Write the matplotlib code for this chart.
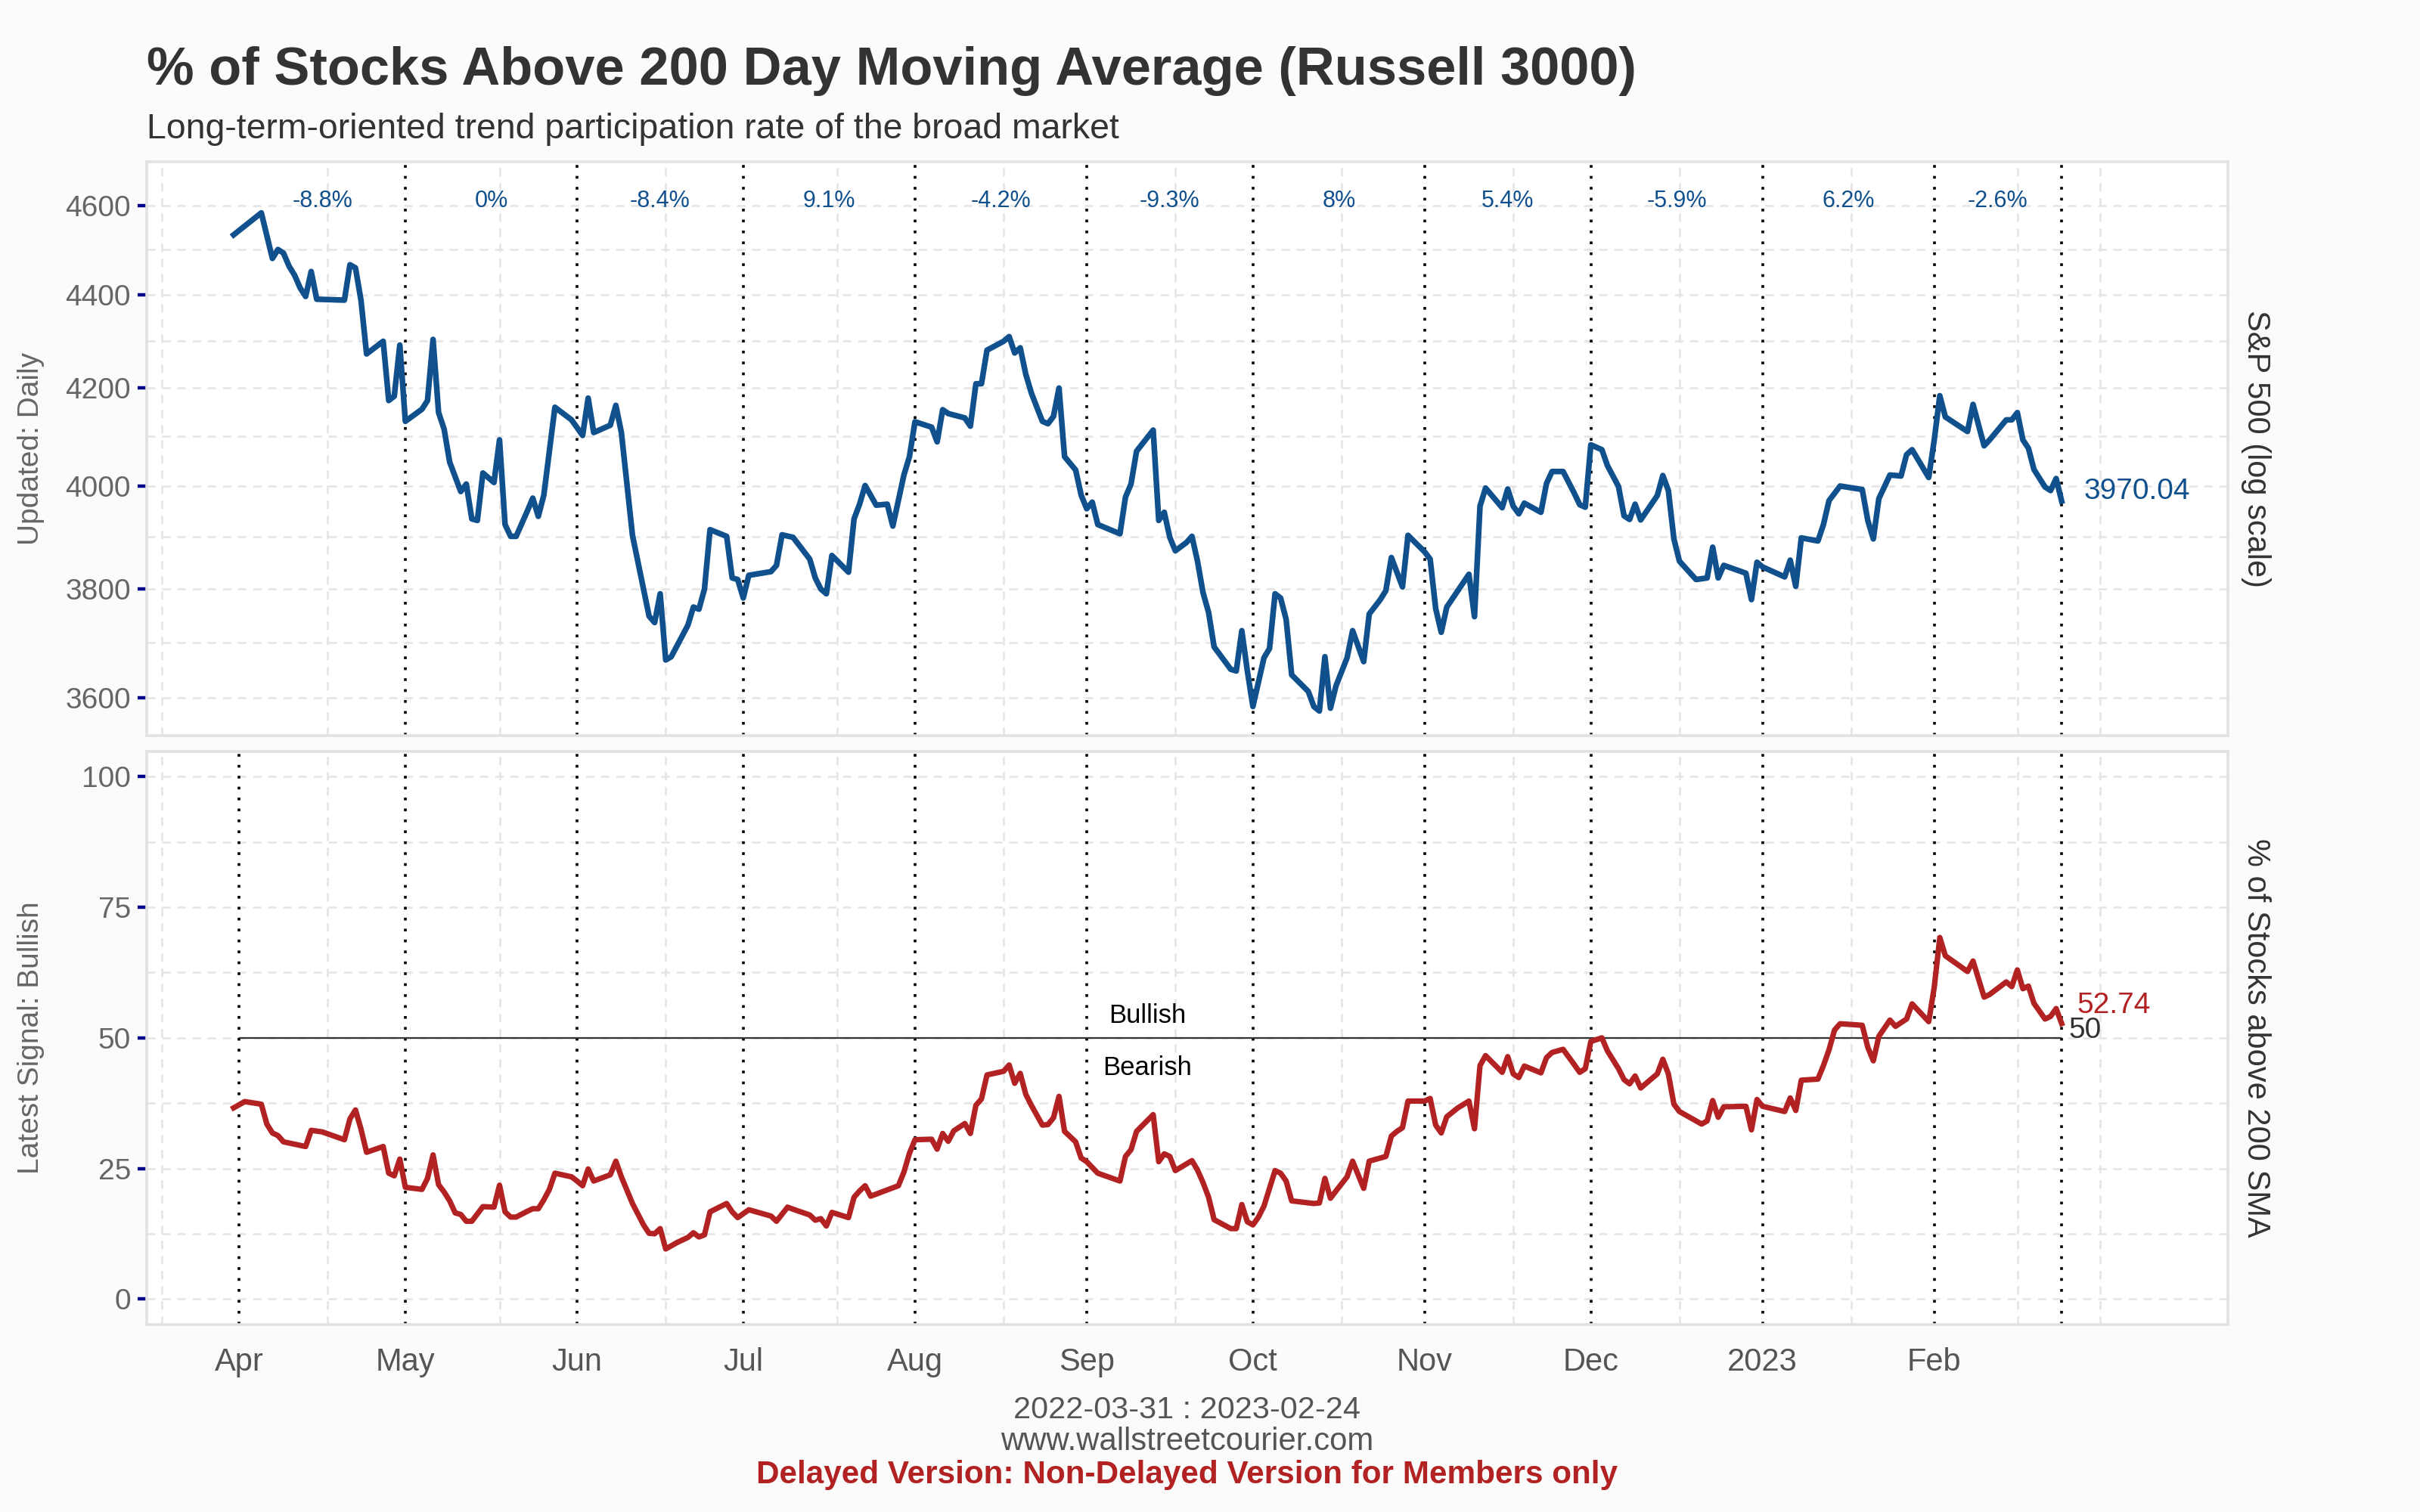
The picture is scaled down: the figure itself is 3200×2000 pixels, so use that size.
import matplotlib
matplotlib.use("Agg")
import matplotlib.pyplot as plt
import matplotlib.dates as mdates
import matplotlib.ticker as mticker
import matplotlib.transforms as mtransforms
import numpy as np
import pandas as pd

plt.rcParams['font.family'] = ['Liberation Sans', 'DejaVu Sans']

# ---- data ----
spx_dates = [
    "2022-03-31", "2022-04-05", "2022-04-07", "2022-04-08", "2022-04-09", "2022-04-10", "2022-04-11",
    "2022-04-12", "2022-04-13", "2022-04-14", "2022-04-15", "2022-04-20", "2022-04-21", "2022-04-22",
    "2022-04-23", "2022-04-24", "2022-04-27", "2022-04-28", "2022-04-29", "2022-04-30", "2022-05-01",
    "2022-05-04", "2022-05-05", "2022-05-06", "2022-05-07", "2022-05-08", "2022-05-09", "2022-05-11",
    "2022-05-12", "2022-05-13", "2022-05-14", "2022-05-15", "2022-05-17", "2022-05-18", "2022-05-19",
    "2022-05-20", "2022-05-21", "2022-05-23", "2022-05-24", "2022-05-25", "2022-05-26", "2022-05-28",
    "2022-05-31", "2022-06-02", "2022-06-03", "2022-06-04", "2022-06-07", "2022-06-08", "2022-06-09",
    "2022-06-11", "2022-06-14", "2022-06-15", "2022-06-16", "2022-06-17", "2022-06-18", "2022-06-21",
    "2022-06-22", "2022-06-23", "2022-06-24", "2022-06-25", "2022-06-28", "2022-06-29", "2022-06-30",
    "2022-07-01", "2022-07-02", "2022-07-06", "2022-07-07", "2022-07-08", "2022-07-10", "2022-07-13",
    "2022-07-14", "2022-07-15", "2022-07-16", "2022-07-17", "2022-07-20", "2022-07-21", "2022-07-22",
    "2022-07-23", "2022-07-25", "2022-07-27", "2022-07-28", "2022-07-30", "2022-07-31", "2022-08-01",
    "2022-08-04", "2022-08-05", "2022-08-06", "2022-08-07", "2022-08-08", "2022-08-10", "2022-08-11",
    "2022-08-12", "2022-08-13", "2022-08-14", "2022-08-17", "2022-08-18", "2022-08-19", "2022-08-20",
    "2022-08-21", "2022-08-22", "2022-08-23", "2022-08-24", "2022-08-25", "2022-08-26", "2022-08-27",
    "2022-08-28", "2022-08-30", "2022-08-31", "2022-09-01", "2022-09-02", "2022-09-03", "2022-09-07",
    "2022-09-08", "2022-09-09", "2022-09-10", "2022-09-13", "2022-09-14", "2022-09-15", "2022-09-16",
    "2022-09-17", "2022-09-19", "2022-09-20", "2022-09-21", "2022-09-22", "2022-09-23", "2022-09-24",
    "2022-09-27", "2022-09-28", "2022-09-29", "2022-09-30", "2022-10-01", "2022-10-02", "2022-10-03",
    "2022-10-04", "2022-10-05", "2022-10-06", "2022-10-07", "2022-10-08", "2022-10-10", "2022-10-11",
    "2022-10-12", "2022-10-13", "2022-10-14", "2022-10-15", "2022-10-16", "2022-10-18", "2022-10-19",
    "2022-10-21", "2022-10-22", "2022-10-24", "2022-10-25", "2022-10-26", "2022-10-28", "2022-10-29",
    "2022-11-01", "2022-11-02", "2022-11-03", "2022-11-04", "2022-11-05", "2022-11-07", "2022-11-09",
    "2022-11-10", "2022-11-11", "2022-11-12", "2022-11-15", "2022-11-16", "2022-11-17", "2022-11-18",
    "2022-11-19", "2022-11-22", "2022-11-23", "2022-11-24", "2022-11-26", "2022-11-28", "2022-11-29",
    "2022-11-30", "2022-12-01", "2022-12-03", "2022-12-04", "2022-12-06", "2022-12-07", "2022-12-08",
    "2022-12-09", "2022-12-10", "2022-12-13", "2022-12-14", "2022-12-15", "2022-12-16", "2022-12-17",
    "2022-12-20", "2022-12-22", "2022-12-23", "2022-12-24", "2022-12-25", "2022-12-29", "2022-12-30",
    "2022-12-31", "2023-01-01", "2023-01-05", "2023-01-06", "2023-01-07", "2023-01-08", "2023-01-11",
    "2023-01-12", "2023-01-13", "2023-01-15", "2023-01-19", "2023-01-20", "2023-01-21", "2023-01-22",
    "2023-01-24", "2023-01-26", "2023-01-27", "2023-01-28", "2023-01-31", "2023-02-01", "2023-02-02",
    "2023-02-03", "2023-02-07", "2023-02-08", "2023-02-10", "2023-02-11", "2023-02-14", "2023-02-15",
    "2023-02-16", "2023-02-17", "2023-02-18", "2023-02-19", "2023-02-21", "2023-02-22", "2023-02-23",
    "2023-02-24",
]
spx_values = [
    4533, 4583, 4480, 4500, 4492, 4463, 4443, 4415, 4396, 4451, 4390, 4388, 4466, 4459,
    4387, 4272, 4299, 4174, 4183, 4291, 4131, 4156, 4174, 4303, 4149, 4115, 4048, 3989,
    4004, 3935, 3932, 4026, 4007, 4093, 3924, 3901, 3901, 3950, 3976, 3940, 3982, 4160,
    4134, 4102, 4179, 4108, 4123, 4164, 4108, 3903, 3749, 3737, 3791, 3668, 3674, 3732,
    3766, 3762, 3800, 3914, 3901, 3821, 3818, 3783, 3826, 3833, 3845, 3904, 3899, 3857,
    3821, 3800, 3791, 3864, 3832, 3935, 3964, 4001, 3962, 3964, 3921, 4022, 4059, 4130,
    4119, 4089, 4155, 4147, 4144, 4138, 4121, 4209, 4209, 4280, 4299, 4309, 4274, 4285,
    4229, 4190, 4160, 4131, 4126, 4141, 4200, 4059, 4032, 3982, 3955, 3968, 3924, 3906,
    3978, 4004, 4070, 4113, 3932, 3948, 3899, 3873, 3889, 3901, 3853, 3793, 3756, 3692,
    3651, 3648, 3722, 3648, 3584, 3628, 3672, 3689, 3791, 3783, 3743, 3641, 3621, 3611,
    3584, 3576, 3674, 3581, 3621, 3672, 3722, 3665, 3753, 3780, 3797, 3860, 3804, 3903,
    3871, 3857, 3763, 3719, 3766, 3797, 3828, 3748, 3960, 3996, 3957, 3994, 3960, 3945,
    3966, 3948, 4005, 4029, 4029, 3986, 3963, 3958, 4083, 4073, 4041, 3999, 3941, 3934,
    3964, 3933, 3981, 4021, 3991, 3896, 3853, 3818, 3821, 3880, 3821, 3845, 3830, 3780,
    3851, 3842, 3823, 3855, 3805, 3898, 3892, 3924, 3971, 4000, 3993, 3932, 3896, 3975,
    4022, 4020, 4063, 4073, 4017, 4093, 4184, 4140, 4110, 4166, 4081, 4093, 4134, 4134,
    4149, 4093, 4076, 4033, 3998, 3991, 4015, 3970.04,
]

pct_dates = [
    "2022-03-31", "2022-04-02", "2022-04-05", "2022-04-06", "2022-04-07", "2022-04-08", "2022-04-09",
    "2022-04-13", "2022-04-14", "2022-04-16", "2022-04-20", "2022-04-21", "2022-04-22", "2022-04-23",
    "2022-04-24", "2022-04-27", "2022-04-28", "2022-04-29", "2022-04-30", "2022-05-01", "2022-05-04",
    "2022-05-05", "2022-05-06", "2022-05-07", "2022-05-08", "2022-05-09", "2022-05-10", "2022-05-11",
    "2022-05-12", "2022-05-13", "2022-05-15", "2022-05-17", "2022-05-18", "2022-05-19", "2022-05-20",
    "2022-05-21", "2022-05-23", "2022-05-24", "2022-05-25", "2022-05-26", "2022-05-27", "2022-05-28",
    "2022-05-31", "2022-06-01", "2022-06-02", "2022-06-03", "2022-06-04", "2022-06-07", "2022-06-08",
    "2022-06-09", "2022-06-11", "2022-06-13", "2022-06-14", "2022-06-15", "2022-06-16", "2022-06-17",
    "2022-06-19", "2022-06-21", "2022-06-22", "2022-06-23", "2022-06-24", "2022-06-25", "2022-06-28",
    "2022-06-29", "2022-06-30", "2022-07-02", "2022-07-06", "2022-07-07", "2022-07-09", "2022-07-10",
    "2022-07-13", "2022-07-14", "2022-07-15", "2022-07-16", "2022-07-17", "2022-07-20", "2022-07-21",
    "2022-07-22", "2022-07-23", "2022-07-24", "2022-07-29", "2022-07-30", "2022-07-31", "2022-08-01",
    "2022-08-04", "2022-08-05", "2022-08-06", "2022-08-07", "2022-08-08", "2022-08-10", "2022-08-11",
    "2022-08-12", "2022-08-13", "2022-08-14", "2022-08-17", "2022-08-18", "2022-08-19", "2022-08-20",
    "2022-08-21", "2022-08-22", "2022-08-24", "2022-08-25", "2022-08-26", "2022-08-27", "2022-08-28",
    "2022-08-30", "2022-08-31", "2022-09-01", "2022-09-03", "2022-09-07", "2022-09-08", "2022-09-09",
    "2022-09-10", "2022-09-13", "2022-09-14", "2022-09-15", "2022-09-16", "2022-09-17", "2022-09-20",
    "2022-09-21", "2022-09-22", "2022-09-23", "2022-09-24", "2022-09-27", "2022-09-28", "2022-09-29",
    "2022-09-30", "2022-10-01", "2022-10-02", "2022-10-03", "2022-10-05", "2022-10-06", "2022-10-07",
    "2022-10-08", "2022-10-12", "2022-10-13", "2022-10-14", "2022-10-15", "2022-10-16", "2022-10-18",
    "2022-10-19", "2022-10-21", "2022-10-22", "2022-10-24", "2022-10-25", "2022-10-26", "2022-10-27",
    "2022-10-28", "2022-10-29", "2022-11-01", "2022-11-02", "2022-11-03", "2022-11-04", "2022-11-05",
    "2022-11-07", "2022-11-09", "2022-11-10", "2022-11-11", "2022-11-12", "2022-11-15", "2022-11-16",
    "2022-11-17", "2022-11-18", "2022-11-19", "2022-11-22", "2022-11-23", "2022-11-24", "2022-11-26",
    "2022-11-28", "2022-11-29", "2022-11-30", "2022-12-01", "2022-12-03", "2022-12-04", "2022-12-06",
    "2022-12-07", "2022-12-08", "2022-12-09", "2022-12-10", "2022-12-13", "2022-12-14", "2022-12-15",
    "2022-12-16", "2022-12-17", "2022-12-21", "2022-12-22", "2022-12-23", "2022-12-24", "2022-12-25",
    "2022-12-29", "2022-12-30", "2022-12-31", "2023-01-01", "2023-01-05", "2023-01-06", "2023-01-07",
    "2023-01-08", "2023-01-11", "2023-01-12", "2023-01-13", "2023-01-14", "2023-01-15", "2023-01-19",
    "2023-01-20", "2023-01-21", "2023-01-22", "2023-01-24", "2023-01-25", "2023-01-27", "2023-01-28",
    "2023-01-31", "2023-02-01", "2023-02-02", "2023-02-03", "2023-02-07", "2023-02-08", "2023-02-10",
    "2023-02-11", "2023-02-14", "2023-02-15", "2023-02-16", "2023-02-17", "2023-02-18", "2023-02-19",
    "2023-02-21", "2023-02-22", "2023-02-23", "2023-02-24",
]
pct_values = [
    36.6, 37.8, 37.3, 33.5, 31.8, 31.3, 30.1, 29.2, 32.3, 32.0, 30.5, 34.5, 36.2, 32.5,
    28.1, 29.2, 24.1, 23.6, 26.8, 21.4, 21.0, 23.1, 27.6, 21.9, 20.5, 18.8, 16.5, 16.2,
    14.9, 14.9, 17.7, 17.6, 21.8, 16.7, 15.7, 15.7, 16.8, 17.3, 17.3, 19.0, 21.0, 24.1,
    23.4, 22.6, 21.7, 24.9, 22.6, 23.8, 26.4, 23.4, 18.3, 14.2, 12.6, 12.5, 13.5, 9.6,
    10.8, 11.8, 12.7, 11.9, 12.3, 16.7, 18.3, 16.7, 15.6, 17.1, 15.9, 14.9, 17.6, 17.2,
    16.1, 15.1, 15.4, 14.0, 16.6, 15.6, 19.5, 20.7, 21.7, 19.7, 21.7, 24.3, 27.9, 30.5,
    30.6, 28.7, 31.7, 30.2, 32.2, 33.6, 31.7, 37.1, 38.3, 42.9, 43.6, 44.8, 41.3, 43.2,
    39.2, 37.1, 33.3, 33.4, 34.7, 38.8, 32.1, 30.1, 27.0, 26.3, 24.1, 22.6, 27.3, 28.6,
    32.1, 35.3, 26.3, 27.8, 27.3, 24.6, 26.5, 24.7, 22.3, 19.5, 15.2, 13.5, 13.5, 18.1,
    14.8, 14.2, 15.7, 17.8, 24.6, 24.1, 22.6, 18.8, 18.3, 18.4, 23.1, 19.3, 20.7, 23.4,
    26.4, 21.2, 26.4, 27.0, 27.3, 31.2, 32.1, 32.8, 37.9, 37.9, 38.4, 33.3, 31.8, 34.9,
    36.6, 37.9, 32.6, 44.7, 46.6, 43.4, 46.4, 43.1, 42.4, 44.6, 43.3, 46.2, 47.2, 47.8,
    44.9, 43.4, 44.1, 49.3, 50.0, 47.5, 44.1, 42.0, 41.2, 42.7, 40.4, 43.1, 45.9, 43.1,
    37.3, 35.9, 33.5, 34.1, 38.0, 34.8, 36.8, 36.9, 32.4, 38.2, 36.9, 35.9, 38.5, 36.1,
    41.9, 42.1, 44.7, 47.7, 51.5, 52.7, 52.4, 48.2, 45.6, 50.3, 53.4, 52.2, 53.6, 56.5,
    53.1, 59.7, 69.2, 65.7, 62.7, 64.7, 57.8, 58.3, 60.7, 59.8, 63.0, 59.4, 59.9, 56.6,
    53.6, 54.1, 55.6, 52.74,
]

month_starts = ["2022-04-01", "2022-05-01", "2022-06-01", "2022-07-01", "2022-08-01", "2022-09-01",
                "2022-10-01", "2022-11-01", "2022-12-01", "2023-01-01", "2023-02-01"]
month_labels = ["Apr", "May", "Jun", "Jul", "Aug", "Sep", "Oct", "Nov", "Dec", "2023", "Feb"]
month_returns = ["-8.8%", "0%", "-8.4%", "9.1%", "-4.2%", "-9.3%", "8%", "5.4%", "-5.9%", "6.2%", "-2.6%"]

# dashed vertical grid positions seen in the panels
grid_dates = ["2022-03-18", "2022-04-17", "2022-05-18", "2022-06-17", "2022-07-18", "2022-08-17",
              "2022-09-17", "2022-10-17", "2022-11-17", "2022-12-17", "2023-01-17", "2023-02-16",
              "2023-03-03"]

spx_ticks = [3600, 3800, 4000, 4200, 4400, 4600]
spx_minor = [3700, 3900, 4100, 4300, 4500]
pct_ticks = [0, 25, 50, 75, 100]
pct_minor = [12.5, 37.5, 62.5, 87.5]
threshold = 50

# ---- styling ----
BLUE = "#10508c"
RED = "#b22222"
GRID = "#e4e4e4"
TICKC = "#00008b"
LABELC = "#666666"

spx_x = mdates.date2num(pd.to_datetime(spx_dates))
pct_x = mdates.date2num(pd.to_datetime(pct_dates))
months_x = mdates.date2num(pd.to_datetime(month_starts))
end_x = spx_x[-1]
bounds_x = np.append(months_x, end_x)
grid_x = mdates.date2num(pd.to_datetime(grid_dates))

xmin = months_x[0] - 16.7
xmax = end_x + 30

fig = plt.figure(figsize=(16, 10), dpi=200, facecolor="#fbfbfb")
ax1 = fig.add_axes([0.0606, 0.5137, 0.8600, 0.3793])
ax2 = fig.add_axes([0.0606, 0.1241, 0.8600, 0.3789])


def style_axis(ax):
    ax.set_facecolor("white")
    for s in ax.spines.values():
        s.set_color("#e2e2e2")
        s.set_linewidth(1.3)
    ax.set_xlim(xmin, xmax)
    ax.xaxis.set_minor_locator(mticker.FixedLocator(grid_x))
    ax.grid(which="minor", axis="x", color=GRID, linestyle=(0, (4.5, 3.5)), linewidth=0.9)
    ax.grid(which="both", axis="y", color=GRID, linestyle=(0, (4.5, 3.5)), linewidth=0.9)
    ax.tick_params(axis="x", which="both", length=0)
    ax.tick_params(axis="y", which="major", length=4.5, width=1.6, color=TICKC,
                   labelcolor=LABELC, labelsize=14, pad=3)
    ax.tick_params(axis="y", which="minor", length=0)
    ax.set_axisbelow(True)


# top panel: S&P 500 (log)
style_axis(ax1)
ax1.set_yscale("log")
ax1.set_ylim(3533, 4701)
ax1.yaxis.set_major_locator(mticker.FixedLocator(spx_ticks))
ax1.yaxis.set_minor_locator(mticker.FixedLocator(spx_minor))
ax1.yaxis.set_major_formatter(mticker.FuncFormatter(lambda v, p: f"{v:.0f}"))
ax1.yaxis.set_minor_formatter(mticker.NullFormatter())
ax1.set_xticks(months_x)
ax1.set_xticklabels([])
for xv in bounds_x[1:]:
    ax1.axvline(xv, color="black", linestyle=(0, (1, 3)), linewidth=1.3)
ax1.plot(spx_x, spx_values, color=BLUE, linewidth=2.7, zorder=5)

trans1 = mtransforms.blended_transform_factory(ax1.transData, ax1.transAxes)
for a, b, lab in zip(bounds_x[:-1], bounds_x[1:], month_returns):
    ax1.text((a + b) / 2, 0.9315, lab, transform=trans1, ha="center", va="center",
             fontsize=11, color=BLUE)
ax1.text(end_x + 4, 3990, f"{spx_values[-1]:.2f}", color=BLUE, fontsize=14,
         ha="left", va="center")

# bottom panel: % of stocks above 200 SMA
style_axis(ax2)
ax2.set_ylim(-4.83, 104.8)
ax2.yaxis.set_major_locator(mticker.FixedLocator(pct_ticks))
ax2.yaxis.set_minor_locator(mticker.FixedLocator(pct_minor))
ax2.set_xticks(months_x)
ax2.set_xticklabels(month_labels)
ax2.tick_params(axis="x", labelsize=15, labelcolor="#555555", pad=11)
for xv in bounds_x:
    ax2.axvline(xv, color="black", linestyle=(0, (1, 3)), linewidth=1.3)
ax2.hlines(threshold, pct_x[0] + 1, end_x, color="#333333", linewidth=0.8, zorder=4)
ax2.plot(pct_x, pct_values, color=RED, linewidth=2.6, zorder=5)
mid_x = (pct_x[0] + end_x) / 2
ax2.text(mid_x, 52.9, "Bullish", ha="center", va="baseline", fontsize=12.5, color="black")
ax2.text(mid_x, 42.9, "Bearish", ha="center", va="baseline", fontsize=12.5, color="black")
ax2.text(end_x + 2.8, 56.2, f"{pct_values[-1]:.2f}", color=RED, fontsize=14, ha="left", va="center")
ax2.text(end_x + 1.3, 51.4, f"{threshold}", color="#333333", fontsize=14, ha="left", va="center")

# side labels
fig.text(41 / 3200, 0.7035, "Updated: Daily", rotation=90, ha="center", va="center",
         fontsize=14, color=LABELC)
fig.text(41 / 3200, 0.3135, "Latest Signal: Bullish", rotation=90, ha="center", va="center",
         fontsize=14, color=LABELC)
fig.text(2983 / 3200, 0.7035, "S&P 500 (log scale)", rotation=270, ha="center", va="center",
         fontsize=15, color="#333333")
fig.text(2983 / 3200, 0.3135, "% of Stocks above 200 SMA", rotation=270, ha="center", va="center",
         fontsize=15, color="#333333")

# titles
fig.text(0.0606, 0.944, "% of Stocks Above 200 Day Moving Average (Russell 3000)",
         fontsize=25.4, fontweight="bold", color="#333333", ha="left", va="baseline")
fig.text(0.0606, 0.9087, "Long-term-oriented trend participation rate of the broad market",
         fontsize=16.7, color="#333333", ha="left", va="baseline")

# footer
cx = 0.0606 + 0.86 / 2
fig.text(cx, 0.062, f"{spx_dates[0]} : {spx_dates[-1]}", ha="center", va="baseline",
         fontsize=14.9, color="#555555")
fig.text(cx, 0.041, "www.wallstreetcourier.com", ha="center", va="baseline",
         fontsize=15.1, color="#555555")
fig.text(cx, 0.0192, "Delayed Version: Non-Delayed Version for Members only", ha="center",
         va="baseline", fontsize=15.2, fontweight="bold", color=RED)

fig.savefig("out.png", dpi=200, facecolor=fig.get_facecolor())
